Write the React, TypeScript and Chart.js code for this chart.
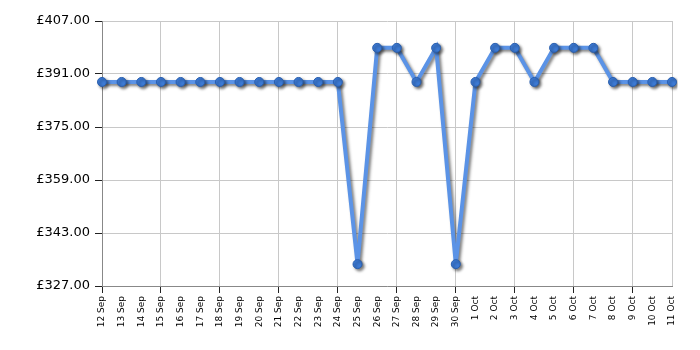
import React, { useEffect, useRef } from "react";
import { Chart, registerables } from "chart.js";

Chart.register(...registerables);

const categories: string[] = [
  "12 Sep", "13 Sep", "14 Sep", "15 Sep", "16 Sep", "17 Sep", "18 Sep", "19 Sep", "20 Sep", "21 Sep",
  "22 Sep", "23 Sep", "24 Sep", "25 Sep", "26 Sep", "27 Sep", "28 Sep", "29 Sep", "30 Sep", "1 Oct",
  "2 Oct", "3 Oct", "4 Oct", "5 Oct", "6 Oct", "7 Oct", "8 Oct", "9 Oct", "10 Oct", "11 Oct",
];

const prices: number[] = [
  388.6, 388.6, 388.6, 388.6, 388.6, 388.6, 388.6, 388.6, 388.6, 388.6,
  388.6, 388.6, 388.6, 333.6, 398.9, 398.9, 388.6, 398.9, 333.6, 388.6,
  398.9, 398.9, 388.6, 398.9, 398.9, 398.9, 388.6, 388.6, 388.6, 388.6,
];

const yMin = 327;
const yMax = 407;
const yStep = 16;

const shadowPlugin = {
  id: "lineShadow",
  beforeDatasetDraw(chart: any) {
    const ctx = chart.ctx;
    ctx.save();
    ctx.shadowColor = "rgba(0,0,0,0.5)";
    ctx.shadowBlur = 3;
    ctx.shadowOffsetX = 2;
    ctx.shadowOffsetY = 2;
  },
  afterDatasetDraw(chart: any) {
    chart.ctx.restore();
  },
};

export default function App() {
  const canvasRef = useRef<HTMLCanvasElement | null>(null);

  useEffect(() => {
    if (!canvasRef.current) return;
    const chart = new Chart(canvasRef.current, {
      type: "line",
      data: {
        labels: categories,
        datasets: [
          {
            data: prices,
            borderColor: "#5b93e6",
            borderWidth: 4,
            pointRadius: 4.5,
            pointBackgroundColor: "#3d7bd6",
            pointBorderColor: "#2a5fae",
            pointBorderWidth: 1,
            tension: 0,
            fill: false,
          },
        ],
      },
      plugins: [shadowPlugin],
      options: {
        animation: false,
        responsive: false,
        maintainAspectRatio: false,
        layout: { padding: { left: 0, right: 28, top: 21, bottom: 0 } },
        plugins: {
          legend: { display: false },
          tooltip: { enabled: false },
        },
        scales: {
          x: {
            type: "category",
            offset: false,
            border: { color: "#888888", width: 1 },
            grid: {
              color: (c: any) =>
                c.index % 3 === 0 || c.index === categories.length - 1 ? "#c8c8c8" : "rgba(0,0,0,0)",
              tickColor: (c: any) => (c.index % 3 === 0 ? "#222222" : "rgba(0,0,0,0)"),
              tickLength: 7,
              drawTicks: true,
            },
            ticks: {
              autoSkip: false,
              maxRotation: 90,
              minRotation: 90,
              color: "#000000",
              padding: 3,
              font: { family: "DejaVu Sans", size: 9 },
            },
            afterFit: (s: any) => {
              s.height = 64;
            },
          },
          y: {
            min: yMin,
            max: yMax,
            border: { color: "#888888", width: 1 },
            grid: {
              color: "#c8c8c8",
              tickColor: "#222222",
              tickLength: 7,
            },
            ticks: {
              stepSize: yStep,
              color: "#000000",
              padding: 5,
              font: { family: "DejaVu Sans", size: 13 },
              callback: (v: any) => "£" + Number(v).toFixed(2),
            },
            afterFit: (s: any) => {
              s.width = 102;
            },
          },
        },
      },
    });
    return () => chart.destroy();
  }, []);

  return (
    <div style={{ position: "absolute", left: 0, top: 0, width: 700, height: 350, background: "#ffffff" }}>
      <canvas ref={canvasRef} width={700} height={350} style={{ width: 700, height: 350 }} />
    </div>
  );
}
